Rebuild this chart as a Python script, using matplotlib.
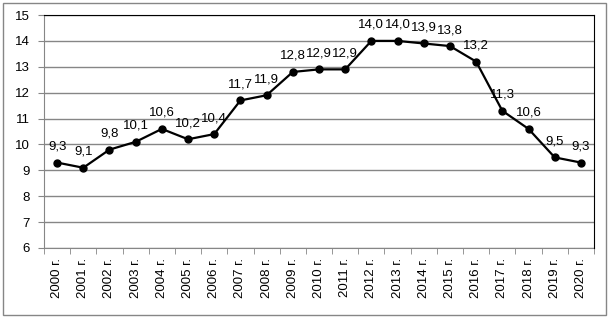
import matplotlib.pyplot as plt
import matplotlib
import numpy as np
from matplotlib.patches import Rectangle

matplotlib.rcParams["font.family"] = ["Liberation Sans", "DejaVu Sans"]

years = ["2000 г.", "2001 г.", "2002 г.", "2003 г.", "2004 г.", "2005 г.", "2006 г.",
         "2007 г.", "2008 г.", "2009 г.", "2010 г.", "2011 г.", "2012 г.", "2013 г.",
         "2014 г.", "2015 г.", "2016 г.", "2017 г.", "2018 г.", "2019 г.", "2020 г."]
values = [9.3, 9.1, 9.8, 10.1, 10.6, 10.2, 10.4, 11.7, 11.9, 12.8, 12.9, 12.9,
          14.0, 14.0, 13.9, 13.8, 13.2, 11.3, 10.6, 9.5, 9.3]
yticks = [6, 7, 8, 9, 10, 11, 12, 13, 14, 15]

grey = "#868686"
fs = 9.5

fig = plt.figure(figsize=(6.09, 3.18), dpi=100)
ax = fig.add_axes([44/609, 1 - 248/318, 550/609, 233/318])

# outer chart frame
fig.patches.append(Rectangle((3/609, 3/318), 603/609, 312/318, transform=fig.transFigure,
                             fill=False, edgecolor=grey, lw=1))

x = np.arange(len(values))
ax.plot(x, values, color="black", lw=1.6, marker="o", markersize=5, zorder=3)

for i, v in enumerate(values):
    ax.annotate(("%.1f" % v).replace(".", ","), (i, v), xytext=(0, 16),
                textcoords="offset pixels", ha="center", va="center", fontsize=fs)

ax.set_xlim(-0.5, len(values) - 0.5)
ax.set_ylim(6, 15)
ax.set_yticks(yticks)
ax.grid(axis="y", color=grey, lw=1, zorder=1)

ax.set_xticks(x)
ax.set_xticklabels(years, rotation=90, fontsize=fs)
ax.set_xticks(np.arange(-0.5, len(values)), minor=True)
ax.tick_params(axis="x", which="major", length=0, pad=7)
ax.tick_params(axis="x", which="minor", length=4, color=grey, direction="out")
ax.tick_params(axis="y", length=4, color=grey, direction="out", labelsize=fs, pad=6)

for s in ["left", "bottom"]:
    ax.spines[s].set_color(grey)
for s in ["top", "right"]:
    ax.spines[s].set_color("black")
    ax.spines[s].set_zorder(4)

fig.savefig("out.png", dpi=100)
